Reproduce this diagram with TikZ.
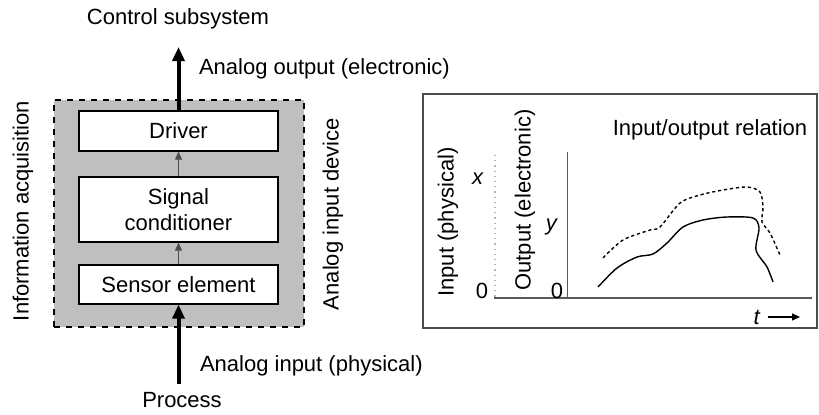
\documentclass[tikz,border=0pt]{standalone}
\usepackage{fontspec}
\setmainfont{Liberation Sans}
\usetikzlibrary{arrows.meta}
\begin{document}
\begin{tikzpicture}[x=0.5pt,y=-0.5pt,
  font=\fontsize{11}{13}\selectfont,
  block/.style={draw,fill=white,line width=0.6pt,minimum width=99.5pt,inner sep=0pt,align=center},
  thinarrow/.style={-{Triangle[length=4pt,width=3.5pt]},line width=0.4pt,gray!60!black},
  boldarrow/.style={-{Triangle[length=7pt,width=6pt]},line width=2pt}]
\useasboundingbox[fill=white] (0,0) rectangle (819,414);
% analog input device
\node[draw,dashed,fill=gray!50,line width=0.6pt,minimum width=125pt,minimum height=113.5pt,inner sep=0pt] (dev) at (179,213.5) {};
\node[block,minimum height=20pt] (drv) at (178.5,131) {Driver};
\node[block,minimum height=32.5pt] (cond) at (178.5,209.5) {Signal\\conditioner};
\node[block,minimum height=19.5pt] (sens) at (178.5,284.5) {Sensor element};
\draw[thinarrow] (sens.north) -- (cond.south);
\draw[thinarrow] (cond.north) -- (drv.south);
\node (ctrl) at (178,19) {Control subsystem};
\node (proc) at (182,400) {Process};
\coordinate (outtip) at (178.5,47);
\coordinate (intail) at (178.5,384);
\draw[boldarrow] (drv.north) -- (outtip);
\draw[boldarrow] (intail) -- (sens.south);
\node[anchor=west] (outlbl) at (192,69) {Analog output (electronic)};
\node[anchor=west] (inlbl) at (193,366) {Analog input (physical)};
\node[rotate=90] (acq) at (23,211) {Information acquisition};
\node[rotate=90] (devlbl) at (333,214) {Analog input device};
% input/output relation
\draw[gray!60!black,line width=0.6pt] (423,94) rectangle (817,328);
\node (rel) at (710,130) {Input/output relation};
\draw[gray!70!black,line width=1.3pt] (494,298) -- (812,298);
\draw[gray!60,dotted,line width=0.6pt] (495,155) -- (495,298);
\draw[gray!70!black,line width=0.5pt] (567,152) -- (567,298);
\node[rotate=90] (inax) at (448,222) {Input (physical)};
\node[rotate=90] (outax) at (525,200) {Output (electronic)};
\node (xl) at (478,179) {\textit{x}};
\node (xzero) at (482,291) {0};
\node (yl) at (552,227) {\textit{y}};
\node (yzero) at (557,291) {0};
\node (tl) at (757,317) {\textit{t}};
\coordinate (tend) at (800,317);
\draw[-{Triangle[length=4pt,width=3.5pt]},line width=0.6pt] (tl.east) -- (tend);
\draw[line width=0.7pt] plot[smooth] coordinates {(598,287) (617,268) (637,257) (653,254) (667,243) (683,227) (703,220) (727,217) (753,218) (759,228) (756,250) (767,267) (773,282)};
\draw[line width=0.7pt,dash pattern=on 1.6pt off 1.4pt] plot[smooth] coordinates {(603,258) (623,240) (650,230) (660,227) (680,203) (700,195) (723,190) (747,187) (760,192) (763,207) (762,222) (770,233) (780,255)};
\end{tikzpicture}
\end{document}
